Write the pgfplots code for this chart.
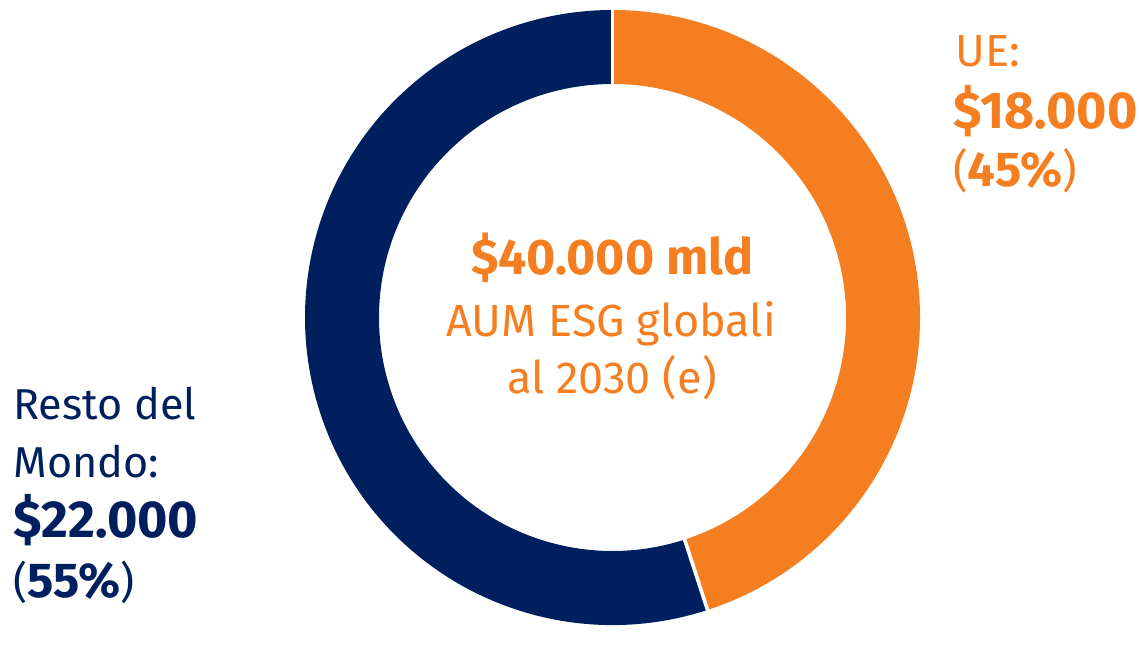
\documentclass[border=0pt]{standalone}
\usepackage{fontspec}
\setmainfont{Fira Sans}
\usepackage{pgfplots}
\usepackage{pgfplotstable}
\pgfplotsset{compat=1.18}

\definecolor{ueorange}{HTML}{F47E20}
\definecolor{rwnavy}{HTML}{001F5F}

% AUM ESG al 2030 (e), miliardi di dollari
\pgfplotstableread{
area  aum
UE    18000
Resto 22000
}\aumdata
\pgfplotstablegetelem{0}{aum}\of\aumdata \let\aumUE\pgfplotsretval
\pgfplotstablegetelem{1}{aum}\of\aumdata \let\aumRW\pgfplotsretval
\edef\cut{\fpeval{90-360*\aumUE/(\aumUE+\aumRW)}}
\def\Ro{153.75pt}
\def\Ri{116.75pt}

\begin{document}%
\begin{tikzpicture}
\begin{axis}[x=0.5pt,y=0.5pt,xmin=0,xmax=1140,ymin=0,ymax=627,
  hide axis,clip=false,scale only axis]
\path (axis cs:0,0) rectangle (axis cs:1140,627);
\coordinate (C) at (axis cs:612.5,309.5);
% UE slice
\fill[ueorange] ([shift={(90:\Ro)}]C) arc[start angle=90,end angle=\cut,radius=\Ro]
  -- ([shift={(\cut:\Ri)}]C) arc[start angle=\cut,end angle=90,radius=\Ri] -- cycle;
% Resto del Mondo slice
\fill[rwnavy] ([shift={(\cut:\Ro)}]C) arc[start angle=\cut,end angle=-270,radius=\Ro]
  -- ([shift={(90:\Ri)}]C) arc[start angle=-270,end angle=\cut,radius=\Ri] -- cycle;
% separators
\draw[white,line width=1.8pt] ([shift={(90:115pt)}]C) -- ([shift={(90:154.5pt)}]C);
\draw[white,line width=1.8pt] ([shift={(\cut:115pt)}]C) -- ([shift={(\cut:154.5pt)}]C);
% centre text
\node[ueorange,anchor=base,inner sep=0pt,font=\fontsize{25}{27}\selectfont\bfseries] at (axis cs:612,352) {\$40.000 mld};
\node[ueorange,anchor=base,inner sep=0pt,font=\fontsize{22.5}{27}\selectfont] at (axis cs:611,290) {AUM ESG globali};
\node[ueorange,anchor=base,inner sep=0pt,font=\fontsize{22.5}{27}\selectfont] at (axis cs:612,234) {al 2030 (e)};
% UE label
\node[ueorange,anchor=base west,inner sep=0pt,font=\fontsize{22.5}{27}\selectfont] at (axis cs:955,560) {UE:};
\node[ueorange,anchor=base west,inner sep=0pt,font=\fontsize{26}{27}\selectfont\bfseries] at (axis cs:953,498) {\$18.000};
\node[ueorange,anchor=base west,inner sep=0pt,font=\fontsize{22.5}{27}\selectfont] at (axis cs:953,440) {(\textbf{\fontsize{24.5}{27}\selectfont 45\%})};
% Resto del Mondo label
\node[rwnavy,anchor=base west,inner sep=0pt,font=\fontsize{21.6}{27}\selectfont] at (axis cs:13,207) {Resto del};
\node[rwnavy,anchor=base west,inner sep=0pt,font=\fontsize{21.6}{27}\selectfont] at (axis cs:13,150) {Mondo:};
\node[rwnavy,anchor=base west,inner sep=0pt,font=\fontsize{26}{27}\selectfont\bfseries] at (axis cs:13,90) {\$22.000};
\node[rwnavy,anchor=base west,inner sep=0pt,font=\fontsize{21.6}{27}\selectfont] at (axis cs:13,30) {(\textbf{\fontsize{24.5}{27}\selectfont 55\%})};
\end{axis}
\end{tikzpicture}%
\end{document}
